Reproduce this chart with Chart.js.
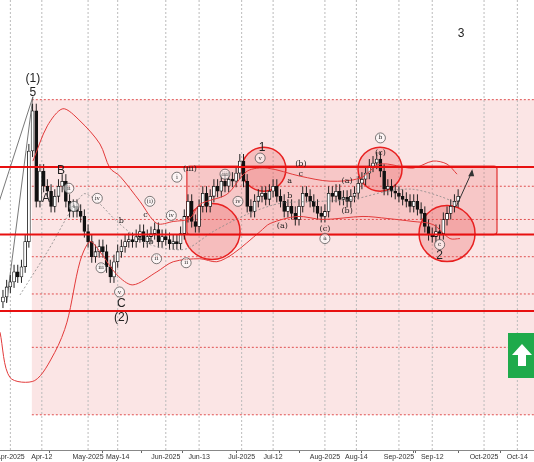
<!DOCTYPE html>
<html><head><meta charset="utf-8">
<script src="https://cdn.jsdelivr.net/npm/chart.js@4.4.1/dist/chart.umd.min.js"></script>
<style>html,body{margin:0;background:#fff}canvas{display:block}</style>
</head><body>
<canvas id="c" width="534" height="462"></canvas>
<script>
// price scale is inverted (chart units grow downward)
const closes = [295,285,280,270,275,265,240,150,110,200,170,185,190,205,195,185,180,200,210,205,
  210,215,230,240,255,250,245,250,265,275,260,250,245,240,238,240,235,230,240,235,
  232,228,240,235,238,242,240,242,232,215,200,220,225,205,192,205,195,185,190,180,
  185,178,180,172,160,180,205,210,200,195,192,198,190,185,195,200,210,205,212,218,
  205,192,195,200,205,212,215,210,192,195,190,198,196,200,195,192,182,178,172,165,
  162,158,170,188,185,190,192,195,198,200,205,200,208,212,225,233,235,230,232,218,
  212,205,200,195];
const tickLabels = {2:'Apr-2025',10.5:'Apr-12',23:'May-2025',31:'May-14',44:'Jun-2025',53:'Jun-13',
  64.5:'Jul-2025',73:'Jul-12',87:'Aug-2025',95.5:'Aug-14',107:'Sep-2025',116:'Sep-12',130:'Oct-2025',139:'Oct-14'};
const upperBand = [[8.1,160],[12,125],[16.2,108],[20.8,120],[26.2,143],[28.9,167],[31.6,175],[37,200],
  [41.6,222],[46,220],[50.5,217],[53.2,203],[60.5,193],[66,170],[71.4,167],[80.3,175],[88.4,180],
  [96.5,177],[101.9,163],[110.8,167],[116.2,160],[120,163],[122.7,173]];
const lowerBand = [[-0.8,330],[1.9,375],[8.6,378],[14,350],[17.3,320],[20.8,260],[23.5,240],[26.2,250],
  [30.8,273],[35.1,283],[41.6,270],[46,260],[53.2,257],[57.8,260],[62.2,252],[69.5,230],[72.2,222],
  [79.5,215],[86.5,218],[97.3,215],[103.8,217],[110.8,220],[116.2,223],[120.8,237],[123.5,237]];
const movingAvg = [[4.6,293],[12,250],[21.6,193],[25.4,200],[30.8,220],[37.8,240],[44.3,247],[49.7,247],
  [56.8,230],[65.9,213],[74.9,202],[85.7,200],[94.6,198],[103.8,190],[110.8,188],[118.1,195],[122.7,202]];
const levelsBold = [166,233,309];
const levelsDash = [99,185,218,255,292,345,412];
// [index, value, text, circled]
const notes = [[8.1,78,'(1)',0],[8.1,92,'5',0],[15.7,170,'B',0],[11.6,197,'A',0],[32,302,'C',0],[32,316,'(2)',0],
  [70,147,'1',0],[118,254,'2',0],[123.8,33,'3',0],[80.5,163,'(b)',0],[77.5,180,'a',0],[80.5,173,'c',0],
  [77.5,195,'b',0],[93,180,'(a)',0],[102,137,'b',1],[102,152,'(c)',0],[87,237,'a',1],[87,227,'(c)',0],
  [93,210,'(b)',0],[118,243,'c',1],[69.5,157,'v',1],[60,173,'iii',1],[63.5,200,'iv',1],[75.5,224,'(a)',0],
  [17.8,187,'ii',1],[19.2,205,'i',1],[25.5,197,'iv',1],[26.5,266,'iii',1],[31.5,290,'v',1],[41.5,257,'ii',1],
  [39.7,200,'(i)',1],[38.5,213,'c',0],[37,236,'a',0],[40,240,'b',0],[49.5,261,'ii',1],[47,176,'i',1],
  [45.5,214,'iv',1],[50.5,168,'(iii)',0],[32,219,'b',0]];
const circles = [[56.5,230,28],[70.5,168,22],[101.9,168,22],[120,232,28]];

const bodies = closes.map((c, i) => ({x: i, y: [i ? closes[i - 1] : 300, c]}));
const colors = bodies.map(b => b.y[1] < b.y[0] ? '#ffffff' : '#111111');
const pts = a => a.map(p => ({x: p[0], y: p[1]}));

const decor = {
  id: 'decor',
  beforeDatasetsDraw(chart) {
    const {ctx, scales: {x, y}, chartArea: a} = chart;
    ctx.save();
    ctx.fillStyle = 'rgba(240,160,160,0.28)';
    ctx.fillRect(x.getPixelForValue(7.8), y.getPixelForValue(99), a.right, y.getPixelForValue(412) - y.getPixelForValue(99));
    ctx.setLineDash([2, 2]);
    ctx.strokeStyle = '#bbb'; ctx.lineWidth = 1;
    Object.keys(tickLabels).forEach(k => {
      const px = x.getPixelForValue(+k);
      ctx.beginPath(); ctx.moveTo(px, a.top); ctx.lineTo(px, a.bottom); ctx.stroke();
    });
    ctx.strokeStyle = '#e05050';
    levelsDash.forEach(v => {
      const py = y.getPixelForValue(v);
      ctx.beginPath(); ctx.moveTo(x.getPixelForValue(7.8), py); ctx.lineTo(a.right, py); ctx.stroke();
    });
    ctx.setLineDash([]);
    const bx = x.getPixelForValue(49.7), by = y.getPixelForValue(165);
    const bw = x.getPixelForValue(133.5) - bx, bh = y.getPixelForValue(233) - by;
    ctx.fillStyle = 'rgba(230,90,90,0.22)'; ctx.strokeStyle = '#e03030'; ctx.lineWidth = 1.2;
    ctx.beginPath(); ctx.roundRect(bx, by, bw, bh, 3); ctx.fill(); ctx.stroke();
    circles.forEach(c => {
      ctx.beginPath(); ctx.arc(x.getPixelForValue(c[0]), y.getPixelForValue(c[1]), c[2], 0, Math.PI * 2);
      ctx.fillStyle = 'rgba(230,70,70,0.25)'; ctx.fill();
      ctx.strokeStyle = '#e82020'; ctx.lineWidth = 1.5; ctx.stroke();
    });
    ctx.strokeStyle = '#555'; ctx.lineWidth = 0.8;
    ctx.beginPath(); ctx.moveTo(x.getPixelForValue(-1), y.getPixelForValue(200)); ctx.lineTo(x.getPixelForValue(8.1), y.getPixelForValue(96)); ctx.stroke();
    ctx.beginPath(); ctx.moveTo(x.getPixelForValue(1), y.getPixelForValue(300)); ctx.lineTo(x.getPixelForValue(8.1), y.getPixelForValue(96)); ctx.stroke();
    ctx.strokeStyle = '#222'; ctx.lineWidth = 1;
    bodies.forEach(b => {
      const px = x.getPixelForValue(b.x);
      const hi = Math.min(...b.y) - 7, lo = Math.max(...b.y) + 6;
      ctx.beginPath(); ctx.moveTo(px, y.getPixelForValue(hi)); ctx.lineTo(px, y.getPixelForValue(lo)); ctx.stroke();
    });
    ctx.restore();
  },
  afterDatasetsDraw(chart) {
    const {ctx, scales: {x, y}, chartArea: a} = chart;
    ctx.save();
    ctx.strokeStyle = '#e81010'; ctx.lineWidth = 2;
    levelsBold.forEach(v => {
      const py = y.getPixelForValue(v);
      ctx.beginPath(); ctx.moveTo(0, py); ctx.lineTo(a.right, py); ctx.stroke();
    });
    ctx.strokeStyle = '#333'; ctx.lineWidth = 1;
    const x1 = x.getPixelForValue(122.5), y1 = y.getPixelForValue(205), x2 = x.getPixelForValue(126.8), y2 = y.getPixelForValue(170);
    ctx.beginPath(); ctx.moveTo(x1, y1); ctx.lineTo(x2, y2); ctx.stroke();
    ctx.fillStyle = '#333'; ctx.beginPath(); ctx.moveTo(x2, y2 - 2); ctx.lineTo(x2 - 4, y2 + 5); ctx.lineTo(x2 + 2, y2 + 5); ctx.fill();
    ctx.textAlign = 'center'; ctx.textBaseline = 'middle';
    notes.forEach(n => {
      const px = x.getPixelForValue(n[0]), py = y.getPixelForValue(n[1]);
      if (n[3]) {
        ctx.beginPath(); ctx.arc(px, py, 5, 0, Math.PI * 2);
        ctx.fillStyle = 'rgba(255,255,255,0.6)'; ctx.fill();
        ctx.strokeStyle = '#444'; ctx.lineWidth = 0.7; ctx.stroke();
        ctx.fillStyle = '#333'; ctx.font = '6px "DejaVu Serif"';
      } else {
        ctx.fillStyle = '#222';
        ctx.font = (n[2].length < 2 && /[A-Z0-9]/.test(n[2]) || n[2].length === 3 && /\d/.test(n[2])) ? '12px "Liberation Sans"' : '8px "DejaVu Serif"';
      }
      ctx.fillText(n[2], px, py);
    });
    ctx.fillStyle = '#1faa4b'; ctx.fillRect(508, 333, 30, 45);
    ctx.fillStyle = '#fff'; ctx.beginPath();
    ctx.moveTo(522, 344); ctx.lineTo(532, 355); ctx.lineTo(526, 355); ctx.lineTo(526, 366);
    ctx.lineTo(518, 366); ctx.lineTo(518, 355); ctx.lineTo(512, 355); ctx.closePath(); ctx.fill();
    ctx.restore();
  }
};

const lineDs = (d, color, dash, w) => ({type: 'line', data: pts(d), borderColor: color, borderWidth: w,
  borderDash: dash, pointRadius: 0, tension: 0.3, fill: false, order: 0});

new Chart(document.getElementById('c'), {
  data: {
    datasets: [
      {type: 'bar', data: bodies, backgroundColor: colors, borderColor: '#111', borderWidth: 0.8,
        barThickness: 3, borderSkipped: false, grouped: false, order: 2},
      lineDs(upperBand, '#e23a3a', [], 1),
      lineDs(lowerBand, '#e23a3a', [], 1),
      lineDs(movingAvg, '#888', [2, 2], 0.8)
    ]
  },
  options: {
    responsive: false, animation: false,
    layout: {padding: 0},
    plugins: {legend: {display: false}, tooltip: {enabled: false}},
    scales: {
      x: {type: 'linear', min: -0.8, max: 143.5, offset: false,
        grid: {display: true, drawOnChartArea: false, tickLength: 3, color: '#666'}, border: {color: '#888'},
        afterBuildTicks: s => { s.ticks = Object.keys(tickLabels).map(k => ({value: +k})); },
        afterFit: s => { s.paddingLeft = 0; s.paddingRight = 0; },
        ticks: {callback: v => tickLabels[v] || '', font: {size: 7, family: 'Liberation Sans', lineHeight: 1}, color: '#333',
          maxRotation: 0, autoSkip: false, padding: 1}},
      y: {min: 0, max: 447, reverse: true, display: false}
    }
  },
  plugins: [decor]
});
</script>
</body></html>
